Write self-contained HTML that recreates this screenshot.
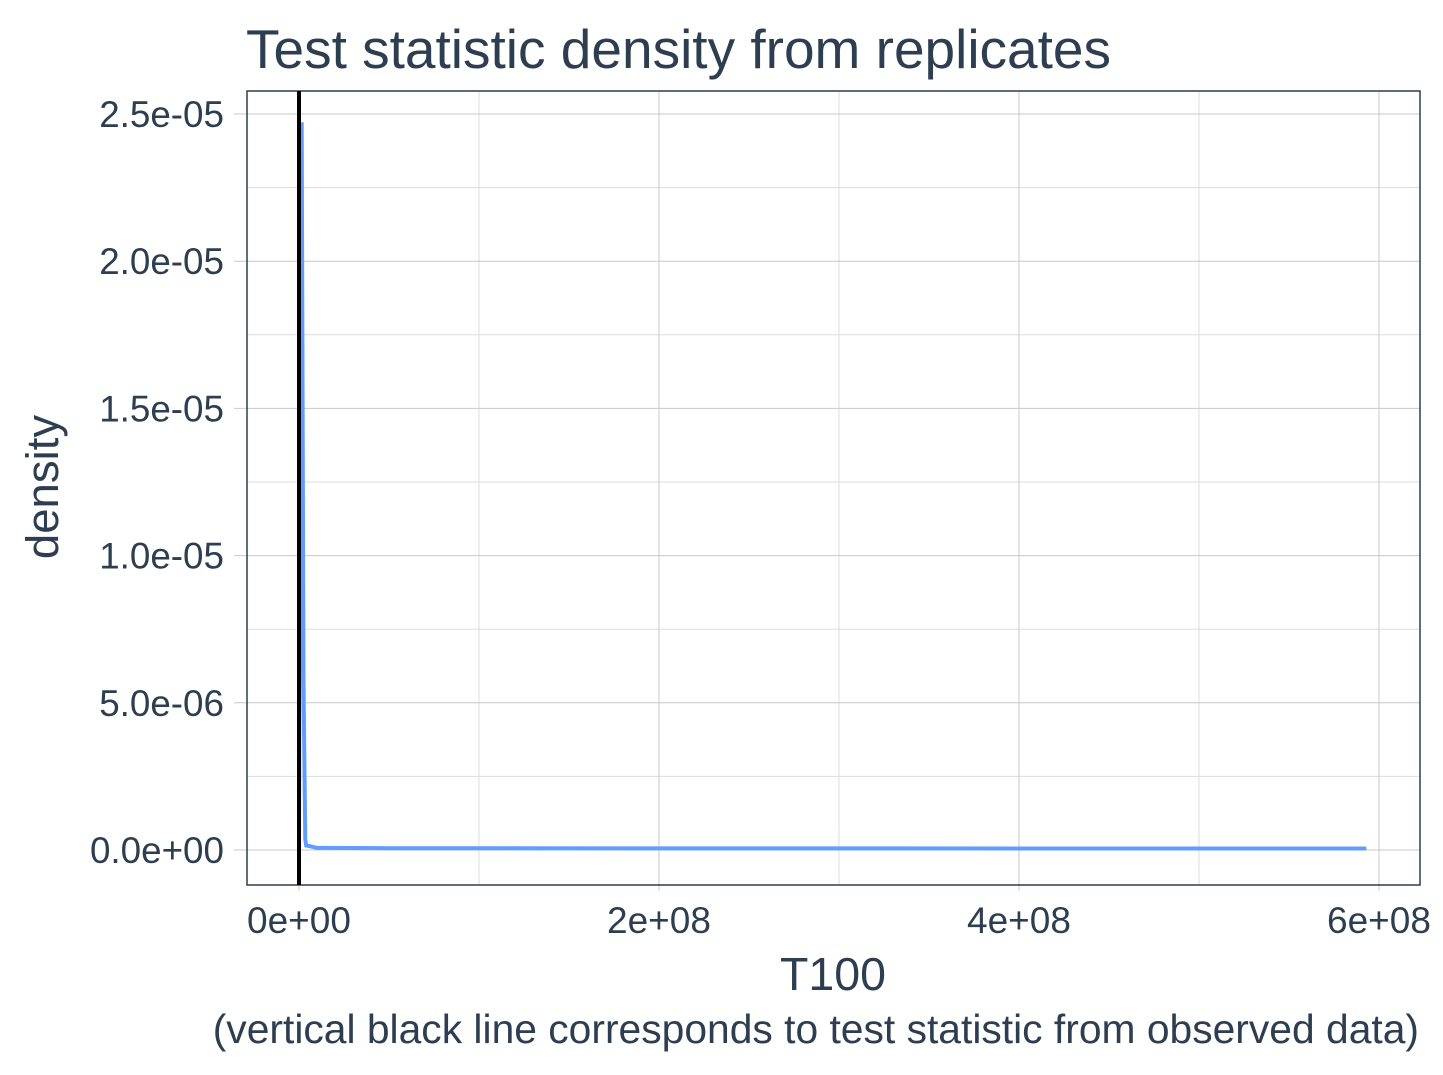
<!DOCTYPE html>
<html><head><meta charset="utf-8"><style>
body{margin:0;background:#fff;}
svg{display:block;font-family:"Liberation Sans",Arial,sans-serif;}
</style></head><body>
<svg id="chart" width="1443" height="1075" viewBox="0 0 1443 1075">
<text x="246" y="68" font-size="55" fill="#2c3e50">Test statistic density from replicates</text>
<g id="grid"></g>
<rect x="247" y="91" width="1173" height="794" fill="none" stroke="#2c3e50" stroke-width="1.5"/>
<g id="marks"></g>
<g id="axes"></g>
<text x="833" y="990" font-size="46.5" fill="#2c3e50" text-anchor="middle">T100</text>
<text x="1419" y="1043" font-size="40.8" fill="#2c3e50" text-anchor="end">(vertical black line corresponds to test statistic from observed data)</text>
<text transform="translate(58,487) rotate(-90)" font-size="45.5" fill="#2c3e50" text-anchor="middle">density</text>
</svg>
<script>
// data (x in millions)
const xVals = [0, 1, 1.5, 2, 2.5, 3, 3.5, 4, 6, 10, 50, 200, 400, 593];
const yVals = [0, 2.46e-5, 2.46e-5, 1.52e-5, 5.7e-6, 2.9e-6, 3e-7, 1e-7, 8e-8, 2e-8, 1e-8, 5e-9, 2e-9, 1e-9];
const observedStat = 0;
const xTicks = [0, 200, 400, 600];
const xTickLabels = ["0e+00", "2e+08", "4e+08", "6e+08"];
const yTicks = [0, 5e-6, 1e-5, 1.5e-5, 2e-5, 2.5e-5];
const yTickLabels = ["0.0e+00", "5.0e-06", "1.0e-05", "1.5e-05", "2.0e-05", "2.5e-05"];

const NS = "http://www.w3.org/2000/svg";
const X = v => 299 + (v) * 1.8;
const Y = v => 850 - v / 2.5e-5 * 736;
function mk(tag, attrs, parent){const e=document.createElementNS(NS,tag);for(const k in attrs)e.setAttribute(k,attrs[k]);parent.appendChild(e);return e;}
const grid=document.getElementById('grid'), marks=document.getElementById('marks'), axes=document.getElementById('axes');
for(let i=0;i<xTicks.length-1;i++){const v=(xTicks[i]+xTicks[i+1])/2;const l=mk('line',{x1:X(v),x2:X(v),y1:91,y2:885,stroke:'#dddddd','stroke-width':1},grid);

}
for(let i=0;i<yTicks.length-1;i++){const v=(yTicks[i]+yTicks[i+1])/2;const l=mk('line',{x1:247,x2:1420,y1:Y(v),y2:Y(v),stroke:'#dddddd','stroke-width':1},grid);

}
xTicks.forEach((v,i)=>{const l=mk('line',{x1:X(v),x2:X(v),y1:91,y2:891,stroke:'#c8c8c8','stroke-width':1},grid);


const t=mk('text',{x:X(v),y:933,'font-size':37,fill:'#2c3e50','text-anchor':'middle'},axes);t.textContent=xTickLabels[i];

});
yTicks.forEach((v,i)=>{const l=mk('line',{x1:234,x2:1420,y1:Y(v),y2:Y(v),stroke:'#c8c8c8','stroke-width':1},grid);


const t=mk('text',{x:224,y:Y(v)+13,'font-size':36.8,fill:'#2c3e50','text-anchor':'end'},axes);t.textContent=yTickLabels[i];

});
let d=xVals.map((x,i)=>(i?'L':'M')+X(x).toFixed(2)+','+(Y(yVals[i])-1.5).toFixed(2)).join(' ');
const p=mk('path',{d:d,fill:'none',stroke:'#619cff','stroke-width':4,'stroke-linejoin':'miter'},marks);


const vl=mk('line',{x1:X(observedStat),x2:X(observedStat),y1:91,y2:885,stroke:'#000','stroke-width':4},marks);


</script>
</body></html>
